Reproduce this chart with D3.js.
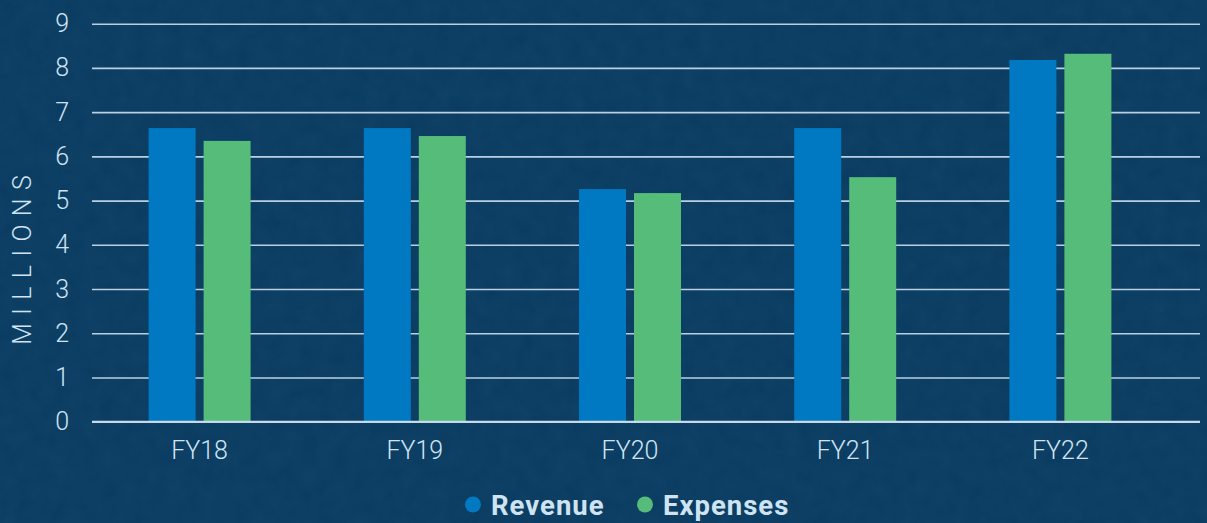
<!DOCTYPE html>
<html>
<head>
<meta charset="utf-8">
<script src="https://cdn.jsdelivr.net/npm/d3@7"></script>
<style>
  html, body { margin: 0; padding: 0; background: #0c3d64; }
  svg { display: block; }
</style>
</head>
<body>
<svg id="chart" width="1207" height="523"></svg>
<script>
const categories = ["FY18", "FY19", "FY20", "FY21", "FY22"];
const seriesNames = ["Revenue", "Expenses"];
const revenue = [6.64, 6.64, 5.26, 6.64, 8.18];
const expenses = [6.35, 6.46, 5.17, 5.53, 8.32];
const yTicks = [0, 1, 2, 3, 4, 5, 6, 7, 8, 9];
const yTitle = "MILLIONS";

const colors = { Revenue: "#0079c2", Expenses: "#55bc79" };
const textColor = "#cfe4f2";
const gridColor = "#b9d0e2";

const W = 1207, H = 523;
const svg = d3.select("#chart");

// background with subtle texture
const defs = svg.append("defs");
const f = defs.append("filter").attr("id", "noise").attr("x", 0).attr("y", 0).attr("width", "100%").attr("height", "100%");
f.append("feTurbulence").attr("type", "fractalNoise").attr("baseFrequency", 0.06).attr("numOctaves", 3).attr("seed", 4).attr("result", "t");
f.append("feColorMatrix").attr("in", "t").attr("type", "matrix")
  .attr("values", "0 0 0 0 0.06  0 0 0 0 0.27  0 0 0 0 0.43  0 0 0 0.6 0");
svg.append("rect").attr("width", W).attr("height", H).attr("fill", "#0a3a60");
svg.append("rect").attr("width", W).attr("height", H).attr("filter", "url(#noise)").attr("opacity", 0.18);

const y = d3.scaleLinear().domain([0, 9]).range([421.7, 23.7]);
const x0 = d3.scaleBand().domain(categories).range([92, 1168]).padding(0);
const groupW = 102;
const x1 = d3.scaleBand().domain(seriesNames).range([0, groupW]).paddingInner(8 / 55).paddingOuter(0);
const gridRight = 1200;

// gridlines
const yAxis = d3.axisLeft(y).tickValues(yTicks).tickSize(-(gridRight - 92)).tickFormat(d3.format("d")).tickPadding(23);
const gy = svg.append("g").attr("transform", "translate(92,0)").call(yAxis);
gy.select(".domain").remove();
gy.selectAll(".tick line").attr("stroke", gridColor).attr("stroke-width", 1.6);
gy.selectAll(".tick text")
  .attr("fill", textColor)
  .attr("font-family", "Roboto, sans-serif")
  .attr("font-weight", 300)
  .attr("font-size", 25);

// bars
const data = categories.map((c, i) => ({ cat: c, values: [
  { key: "Revenue", value: revenue[i] },
  { key: "Expenses", value: expenses[i] }
]}));
const off = (x0.bandwidth() - groupW) / 2;
const groups = svg.append("g").selectAll("g").data(data).join("g")
  .attr("transform", d => `translate(${x0(d.cat) + off},0)`);
groups.selectAll("rect").data(d => d.values).join("rect")
  .attr("x", d => x1(d.key))
  .attr("width", x1.bandwidth())
  .attr("y", d => y(d.value))
  .attr("height", d => y(0) - y(d.value))
  .attr("fill", d => colors[d.key]);

// baseline
svg.append("line").attr("x1", 92).attr("x2", gridRight).attr("y1", y(0)).attr("y2", y(0))
  .attr("stroke", "#c6dcec").attr("stroke-width", 2);

// x axis labels
const xAxis = d3.axisBottom(x0).tickSize(0).tickPadding(20);
const gx = svg.append("g").attr("transform", `translate(0,${y(0)})`).call(xAxis);
gx.select(".domain").remove();
gx.selectAll(".tick text")
  .attr("fill", textColor)
  .attr("font-family", "Roboto, sans-serif")
  .attr("font-weight", 300)
  .attr("font-size", 25);

// y title
svg.append("text")
  .attr("transform", "translate(31,260) rotate(-90)")
  .attr("text-anchor", "middle")
  .attr("fill", textColor)
  .attr("font-family", "Roboto, sans-serif")
  .attr("font-weight", 300)
  .attr("font-size", 25)
  .attr("letter-spacing", "8.4px")
  .attr("dx", 4.2)
  .text(yTitle);

// legend
const legendItems = [
  { key: "Revenue", cx: 473, tx: 491 },
  { key: "Expenses", cx: 645, tx: 663 }
];
const lg = svg.append("g");
legendItems.forEach(it => {
  lg.append("circle").attr("cx", it.cx).attr("cy", 504.5).attr("r", 8).attr("fill", colors[it.key]);
  lg.append("text").attr("x", it.tx).attr("y", 514.5)
    .attr("fill", textColor)
    .attr("font-family", "Roboto, sans-serif")
    .attr("font-weight", 700)
    .attr("font-size", 27.5)
    .attr("letter-spacing", "1px")
    .text(it.key);
});
</script>
</body>
</html>
